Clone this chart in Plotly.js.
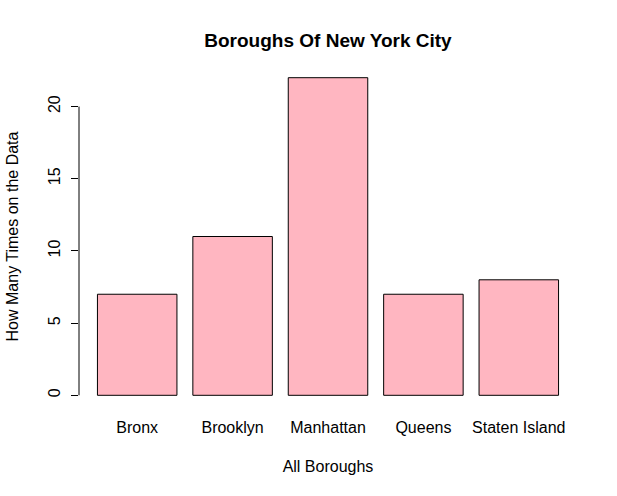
<!DOCTYPE html>
<html>
<head>
<meta charset="utf-8">
<script src="https://cdn.plot.ly/plotly-3.0.1.min.js"></script>
<style>html,body{margin:0;padding:0;background:#fff;}#chart{width:617px;height:496px;}</style>
</head>
<body>
<div id="chart"></div>
<script>
const boroughs = ["Bronx", "Brooklyn", "Manhattan", "Queens", "Staten Island"];
const counts = [7, 11, 22, 7, 8];
const yTicks = [0, 5, 10, 15, 20];

const font = "Liberation Sans, Arial, Helvetica, sans-serif";

const trace = {
  type: "bar",
  x: boroughs,
  y: counts,
  marker: {color: "#FFB6C1", line: {color: "#000000", width: 1}},
  hoverinfo: "x+y"
};

const layout = {
  width: 617, height: 496,
  margin: {l: 79, r: 40, t: 65, b: 88, pad: 0},
  paper_bgcolor: "#ffffff", plot_bgcolor: "#ffffff",
  font: {family: font, size: 16, color: "#000000"},
  showlegend: false,
  bargap: 1/6,
  title: {text: "<b>Boroughs Of New York City</b>", font: {family: font, size: 19, color: "#000"},
          x: 0.5, xref: "paper", y: 1 - 40/496, yanchor: "middle"},
  xaxis: {
    type: "category",
    range: [-0.61, 4.61],
    showline: false, showgrid: false, zeroline: false,
    ticks: "outside", ticklen: 5, tickcolor: "rgba(0,0,0,0)",
    tickfont: {family: font, size: 16},
    title: {text: "All Boroughs", font: {family: font, size: 16}, standoff: 25}
  },
  yaxis: {
    range: [-0.88, 22.88],
    tickmode: "array", tickvals: yTicks, ticktext: yTicks.map(String),
    showline: false, showgrid: false, zeroline: false,
    ticks: "outside", ticklen: 7, tickwidth: 1, tickcolor: "#000",
    tickangle: -90,
    tickfont: {family: font, size: 16},
    ticklabelstandoff: 5,
    title: {text: "How Many Times on the Data", font: {family: font, size: 16}, standoff: 22}
  },
  shapes: [{
    type: "line", xref: "paper", yref: "y",
    x0: 0, x1: 0, y0: yTicks[0], y1: yTicks[yTicks.length - 1],
    line: {color: "#000", width: 1}
  }]
};

Plotly.newPlot("chart", [trace], layout, {displayModeBar: false, staticPlot: true});
</script>
</body>
</html>
